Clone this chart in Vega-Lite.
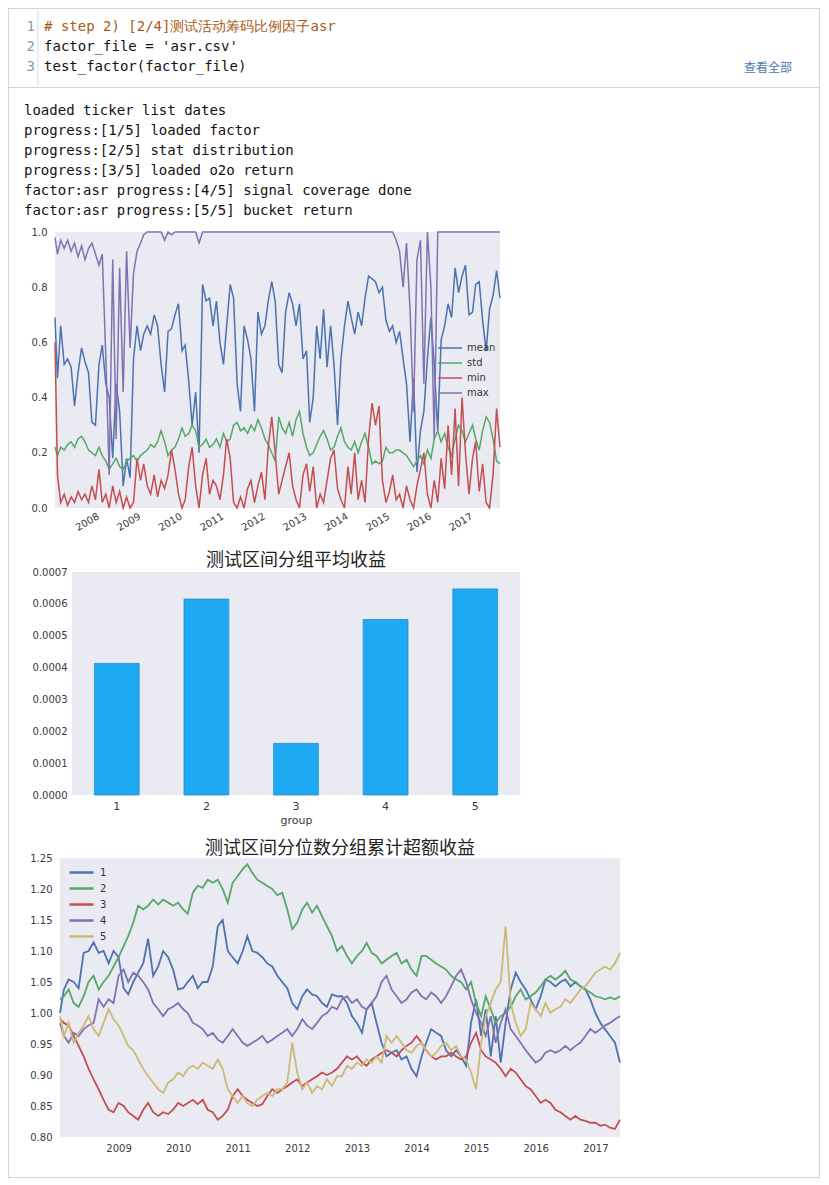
{
"$schema": "https://vega.github.io/schema/vega-lite/v6.json",
"padding": 8,
"background": "white",
"spacing": 0,
"resolve": {"scale": {"color": "independent"}, "legend": {"color": "independent"}},
"config": {
  "view": {"stroke": null},
  "axis": {"domain": false, "ticks": false, "grid": false, "labelFont": "DejaVu Sans", "labelFontSize": 10, "labelColor": "#3a3a3a", "titleFont": "DejaVu Sans", "titleFontWeight": "normal", "titleColor": "#3a3a3a", "labelFlush": false},
  "title": {"font": "Noto Sans CJK SC", "fontSize": 18, "fontWeight": "normal", "color": "#222222", "anchor": "middle"},
  "legend": {"labelFont": "DejaVu Sans", "labelFontSize": 10, "labelColor": "#333333"}
},
"vconcat": [
  {
    "spacing": 0,
    "resolve": {"scale": {"color": "independent"}, "legend": {"color": "independent"}},
    "hconcat": [
      {"width": 1, "height": 1169, "view": {"fill": "#d5d5d5", "stroke": null}, "data": {"values": []}, "mark": "point"},
      {
        "spacing": 0,
        "resolve": {"scale": {"color": "independent"}, "legend": {"color": "independent"}},
        "vconcat": [
          {"width": 810, "height": 1, "view": {"fill": "#d5d5d5", "stroke": null}, "data": {"values": []}, "mark": "point"},
          {
            "width": 810, "height": 76,
            "data": {"values": [
              {"ln": 1, "num": "1", "code": "# step 2) [2/4]测试活动筹码比例因子asr", "kind": "comment"},
              {"ln": 2, "num": "2", "code": "factor_file = 'asr.csv'", "kind": "code"},
              {"ln": 3, "num": "3", "code": "test_factor(factor_file)", "kind": "code"}
            ]},
            "layer": [
              {
                "data": {"values": [{"g": "gutter"}]},
                "mark": {"type": "rule", "color": "#dcdcdc", "strokeWidth": 1},
                "encoding": {"x": {"datum": 3.45, "type": "quantitative", "scale": {"domain": [0, 96.4286], "nice": false, "zero": false}, "axis": null}}
              },
              {
                "mark": {"type": "text", "align": "right", "baseline": "middle", "font": "DejaVu Sans Mono", "fontSize": 14, "color": "#999999"},
                "encoding": {
                  "text": {"field": "num"},
                  "x": {"datum": 3.1, "type": "quantitative", "scale": {"domain": [0, 96.4286], "nice": false, "zero": false}, "axis": null},
                  "y": {"field": "ln", "type": "quantitative", "scale": {"domain": [0.15, 3.95], "reverse": true, "nice": false, "zero": false}, "axis": null}
                }
              },
              {
                "transform": [{"filter": "datum.kind === 'comment'"}],
                "mark": {"type": "text", "align": "left", "baseline": "middle", "font": "DejaVu Sans Mono", "fontSize": 14, "color": "#a85a1c"},
                "encoding": {
                  "text": {"field": "code"},
                  "x": {"datum": 4.17, "type": "quantitative", "scale": {"domain": [0, 96.4286], "nice": false, "zero": false}, "axis": null},
                  "y": {"field": "ln", "type": "quantitative", "scale": {"domain": [0.15, 3.95], "reverse": true, "nice": false, "zero": false}, "axis": null}
                }
              },
              {
                "transform": [{"filter": "datum.kind === 'code'"}],
                "mark": {"type": "text", "align": "left", "baseline": "middle", "font": "DejaVu Sans Mono", "fontSize": 14, "color": "#111111"},
                "encoding": {
                  "text": {"field": "code"},
                  "x": {"datum": 4.17, "type": "quantitative", "scale": {"domain": [0, 96.4286], "nice": false, "zero": false}, "axis": null},
                  "y": {"field": "ln", "type": "quantitative", "scale": {"domain": [0.15, 3.95], "reverse": true, "nice": false, "zero": false}, "axis": null}
                }
              },
              {
                "data": {"values": [{"t": "查看全部"}]},
                "mark": {"type": "text", "align": "center", "baseline": "middle", "font": "Noto Sans CJK SC", "fontSize": 12, "color": "#4a78b5"},
                "encoding": {
                  "text": {"field": "t"},
                  "x": {"datum": 90.36, "type": "quantitative", "scale": {"domain": [0, 96.4286], "nice": false, "zero": false}, "axis": null},
                  "y": {"datum": 3.05, "type": "quantitative", "scale": {"domain": [0.15, 3.95], "reverse": true, "nice": false, "zero": false}, "axis": null}
                }
              }
            ]
          },
          {"width": 810, "height": 1, "view": {"fill": "#d5d5d5", "stroke": null}, "data": {"values": []}, "mark": "point"},
          {"width": 1, "height": 16, "data": {"values": []}, "mark": "point"},
          {
            "spacing": 0,
            "hconcat": [
              {"width": 15, "height": 320, "data": {"values": []}, "mark": "point"},
              {
                "width": 445, "height": 276,
                "view": {"fill": "#EAEAF2", "stroke": null},
                "title": {
                  "text": ["loaded ticker list dates", "progress:[1/5] loaded factor", "progress:[2/5] stat distribution", "progress:[3/5] loaded o2o return", "factor:asr progress:[4/5] signal coverage done", "factor:asr progress:[5/5] bucket return"],
                  "anchor": "start", "frame": "bounds", "dx": 0, "font": "DejaVu Sans Mono", "fontSize": 14, "fontWeight": "normal", "color": "#111111", "lineHeight": 20, "baseline": "top", "offset": 9
                },
                "data": {"values": [
                  {"d":"2007-01-10","mean":0.69,"std":0.22,"min":0.60,"max":0.98},
                  {"d":"2007-02","mean":0.47,"std":0.19,"min":0.12,"max":0.92},
                  {"d":"2007-03","mean":0.66,"std":0.22,"min":0.02,"max":0.97},
                  {"d":"2007-04","mean":0.52,"std":0.21,"min":0.05,"max":0.94},
                  {"d":"2007-05","mean":0.54,"std":0.23,"min":0.01,"max":0.97},
                  {"d":"2007-06","mean":0.51,"std":0.24,"min":0.04,"max":0.93},
                  {"d":"2007-07","mean":0.37,"std":0.22,"min":0.02,"max":0.96},
                  {"d":"2007-08","mean":0.49,"std":0.25,"min":0.06,"max":0.91},
                  {"d":"2007-09","mean":0.58,"std":0.26,"min":0.03,"max":0.95},
                  {"d":"2007-10","mean":0.53,"std":0.24,"min":0.05,"max":0.90},
                  {"d":"2007-11","mean":0.49,"std":0.21,"min":0.02,"max":0.94},
                  {"d":"2007-12","mean":0.31,"std":0.20,"min":0.08,"max":0.96},
                  {"d":"2008-01","mean":0.30,"std":0.19,"min":0.03,"max":0.92},
                  {"d":"2008-02","mean":0.52,"std":0.22,"min":0.14,"max":0.88},
                  {"d":"2008-03","mean":0.59,"std":0.19,"min":0.02,"max":0.92},
                  {"d":"2008-04","mean":0.45,"std":0.17,"min":0.05,"max":0.55},
                  {"d":"2008-05","mean":0.40,"std":0.14,"min":0.00,"max":0.12},
                  {"d":"2008-06","mean":0.18,"std":0.16,"min":0.08,"max":0.90},
                  {"d":"2008-07","mean":0.45,"std":0.18,"min":0.02,"max":0.25},
                  {"d":"2008-08","mean":0.35,"std":0.15,"min":0.06,"max":0.87},
                  {"d":"2008-09","mean":0.08,"std":0.14,"min":0.00,"max":0.42},
                  {"d":"2008-10","mean":0.18,"std":0.17,"min":0.04,"max":0.93},
                  {"d":"2008-11","mean":0.11,"std":0.18,"min":0.00,"max":0.58},
                  {"d":"2008-12","mean":0.54,"std":0.19,"min":0.02,"max":0.85},
                  {"d":"2009-01","mean":0.66,"std":0.17,"min":0.18,"max":0.93},
                  {"d":"2009-02","mean":0.57,"std":0.19,"min":0.10,"max":0.96},
                  {"d":"2009-03","mean":0.63,"std":0.20,"min":0.16,"max":0.99},
                  {"d":"2009-04","mean":0.66,"std":0.21,"min":0.08,"max":1.0},
                  {"d":"2009-05","mean":0.63,"std":0.23,"min":0.05,"max":1.0},
                  {"d":"2009-06","mean":0.70,"std":0.22,"min":0.12,"max":1.0},
                  {"d":"2009-07","mean":0.66,"std":0.24,"min":0.04,"max":1.0},
                  {"d":"2009-08","mean":0.52,"std":0.28,"min":0.10,"max":1.0},
                  {"d":"2009-09","mean":0.42,"std":0.24,"min":0.07,"max":0.97},
                  {"d":"2009-10","mean":0.64,"std":0.19,"min":0.12,"max":1.0},
                  {"d":"2009-11","mean":0.65,"std":0.21,"min":0.21,"max":0.99},
                  {"d":"2009-12","mean":0.70,"std":0.22,"min":0.14,"max":1.0},
                  {"d":"2010-01","mean":0.74,"std":0.25,"min":0.05,"max":1.0},
                  {"d":"2010-02","mean":0.57,"std":0.29,"min":0.00,"max":1.0},
                  {"d":"2010-03","mean":0.59,"std":0.26,"min":0.03,"max":1.0},
                  {"d":"2010-04","mean":0.46,"std":0.27,"min":0.15,"max":1.0},
                  {"d":"2010-05","mean":0.30,"std":0.30,"min":0.22,"max":1.0},
                  {"d":"2010-06","mean":0.42,"std":0.28,"min":0.08,"max":1.0},
                  {"d":"2010-07","mean":0.20,"std":0.22,"min":0.00,"max":0.96},
                  {"d":"2010-08","mean":0.81,"std":0.23,"min":0.12,"max":1.0},
                  {"d":"2010-09","mean":0.75,"std":0.25,"min":0.18,"max":1.0},
                  {"d":"2010-10","mean":0.76,"std":0.22,"min":0.05,"max":1.0},
                  {"d":"2010-11","mean":0.66,"std":0.23,"min":0.10,"max":1.0},
                  {"d":"2010-12","mean":0.75,"std":0.25,"min":0.08,"max":1.0},
                  {"d":"2011-01","mean":0.60,"std":0.22,"min":0.03,"max":1.0},
                  {"d":"2011-02","mean":0.52,"std":0.27,"min":0.12,"max":1.0},
                  {"d":"2011-03","mean":0.66,"std":0.24,"min":0.25,"max":1.0},
                  {"d":"2011-04","mean":0.81,"std":0.25,"min":0.18,"max":1.0},
                  {"d":"2011-05","mean":0.76,"std":0.30,"min":0.02,"max":1.0},
                  {"d":"2011-06","mean":0.45,"std":0.31,"min":0.00,"max":1.0},
                  {"d":"2011-07","mean":0.35,"std":0.28,"min":0.04,"max":1.0},
                  {"d":"2011-08","mean":0.66,"std":0.29,"min":0.00,"max":1.0},
                  {"d":"2011-09","mean":0.61,"std":0.27,"min":0.07,"max":1.0},
                  {"d":"2011-10","mean":0.54,"std":0.30,"min":0.10,"max":1.0},
                  {"d":"2011-11","mean":0.35,"std":0.28,"min":0.02,"max":1.0},
                  {"d":"2011-12","mean":0.71,"std":0.32,"min":0.08,"max":1.0},
                  {"d":"2012-01","mean":0.63,"std":0.29,"min":0.13,"max":1.0},
                  {"d":"2012-02","mean":0.66,"std":0.25,"min":0.03,"max":1.0},
                  {"d":"2012-03","mean":0.75,"std":0.23,"min":0.22,"max":1.0},
                  {"d":"2012-04","mean":0.82,"std":0.20,"min":0.33,"max":1.0},
                  {"d":"2012-05","mean":0.75,"std":0.17,"min":0.20,"max":1.0},
                  {"d":"2012-06","mean":0.52,"std":0.33,"min":0.05,"max":1.0},
                  {"d":"2012-07","mean":0.49,"std":0.29,"min":0.10,"max":1.0},
                  {"d":"2012-08","mean":0.71,"std":0.27,"min":0.15,"max":1.0},
                  {"d":"2012-09","mean":0.78,"std":0.31,"min":0.20,"max":1.0},
                  {"d":"2012-10","mean":0.74,"std":0.26,"min":0.08,"max":1.0},
                  {"d":"2012-11","mean":0.66,"std":0.32,"min":0.03,"max":1.0},
                  {"d":"2012-12","mean":0.74,"std":0.35,"min":0.00,"max":1.0},
                  {"d":"2013-01","mean":0.54,"std":0.27,"min":0.12,"max":1.0},
                  {"d":"2013-02","mean":0.57,"std":0.22,"min":0.16,"max":1.0},
                  {"d":"2013-03","mean":0.31,"std":0.19,"min":0.06,"max":1.0},
                  {"d":"2013-04","mean":0.40,"std":0.20,"min":0.15,"max":1.0},
                  {"d":"2013-05","mean":0.66,"std":0.23,"min":0.00,"max":1.0},
                  {"d":"2013-06","mean":0.54,"std":0.26,"min":0.05,"max":1.0},
                  {"d":"2013-07","mean":0.72,"std":0.28,"min":0.02,"max":1.0},
                  {"d":"2013-08","mean":0.51,"std":0.25,"min":0.10,"max":1.0},
                  {"d":"2013-09","mean":0.66,"std":0.21,"min":0.18,"max":1.0},
                  {"d":"2013-10","mean":0.52,"std":0.22,"min":0.21,"max":1.0},
                  {"d":"2013-11","mean":0.30,"std":0.26,"min":0.07,"max":1.0},
                  {"d":"2013-12","mean":0.54,"std":0.29,"min":0.03,"max":1.0},
                  {"d":"2014-01","mean":0.66,"std":0.24,"min":0.00,"max":1.0},
                  {"d":"2014-02","mean":0.75,"std":0.22,"min":0.15,"max":1.0},
                  {"d":"2014-03","mean":0.69,"std":0.21,"min":0.05,"max":1.0},
                  {"d":"2014-04","mean":0.63,"std":0.24,"min":0.20,"max":1.0},
                  {"d":"2014-05","mean":0.71,"std":0.20,"min":0.03,"max":1.0},
                  {"d":"2014-06","mean":0.66,"std":0.24,"min":0.10,"max":1.0},
                  {"d":"2014-07","mean":0.76,"std":0.27,"min":0.02,"max":1.0},
                  {"d":"2014-08","mean":0.84,"std":0.22,"min":0.25,"max":1.0},
                  {"d":"2014-09","mean":0.83,"std":0.16,"min":0.38,"max":1.0},
                  {"d":"2014-10","mean":0.82,"std":0.17,"min":0.30,"max":1.0},
                  {"d":"2014-11","mean":0.78,"std":0.16,"min":0.37,"max":1.0},
                  {"d":"2014-12","mean":0.80,"std":0.17,"min":0.10,"max":1.0},
                  {"d":"2015-01","mean":0.68,"std":0.22,"min":0.02,"max":1.0},
                  {"d":"2015-02","mean":0.64,"std":0.20,"min":0.06,"max":1.0},
                  {"d":"2015-03","mean":0.66,"std":0.20,"min":0.12,"max":1.0},
                  {"d":"2015-04","mean":0.60,"std":0.21,"min":0.03,"max":0.97},
                  {"d":"2015-05","mean":0.64,"std":0.21,"min":0.05,"max":0.93},
                  {"d":"2015-06","mean":0.54,"std":0.20,"min":0.00,"max":0.80},
                  {"d":"2015-07","mean":0.45,"std":0.19,"min":0.08,"max":0.96},
                  {"d":"2015-08","mean":0.24,"std":0.17,"min":0.03,"max":0.72},
                  {"d":"2015-09","mean":0.47,"std":0.15,"min":0.00,"max":0.35},
                  {"d":"2015-10","mean":0.13,"std":0.17,"min":0.08,"max":0.90},
                  {"d":"2015-11","mean":0.28,"std":0.19,"min":0.14,"max":0.97},
                  {"d":"2015-12","mean":0.35,"std":0.16,"min":0.20,"max":0.45},
                  {"d":"2016-01","mean":0.54,"std":0.21,"min":0.05,"max":1.0},
                  {"d":"2016-02","mean":0.69,"std":0.18,"min":0.00,"max":0.80},
                  {"d":"2016-03","mean":0.52,"std":0.25,"min":0.10,"max":0.25},
                  {"d":"2016-04","mean":0.28,"std":0.28,"min":0.02,"max":1.0},
                  {"d":"2016-05","mean":0.61,"std":0.24,"min":0.18,"max":1.0},
                  {"d":"2016-06","mean":0.66,"std":0.27,"min":0.07,"max":1.0},
                  {"d":"2016-07","mean":0.74,"std":0.22,"min":0.30,"max":1.0},
                  {"d":"2016-08","mean":0.69,"std":0.19,"min":0.12,"max":1.0},
                  {"d":"2016-09","mean":0.87,"std":0.25,"min":0.36,"max":1.0},
                  {"d":"2016-10","mean":0.78,"std":0.30,"min":0.08,"max":1.0},
                  {"d":"2016-11","mean":0.84,"std":0.28,"min":0.40,"max":1.0},
                  {"d":"2016-12","mean":0.88,"std":0.24,"min":0.20,"max":1.0},
                  {"d":"2017-01","mean":0.70,"std":0.27,"min":0.05,"max":1.0},
                  {"d":"2017-02","mean":0.71,"std":0.30,"min":0.18,"max":1.0},
                  {"d":"2017-03","mean":0.81,"std":0.25,"min":0.24,"max":1.0},
                  {"d":"2017-04","mean":0.82,"std":0.21,"min":0.06,"max":1.0},
                  {"d":"2017-05","mean":0.68,"std":0.28,"min":0.16,"max":1.0},
                  {"d":"2017-06","mean":0.57,"std":0.33,"min":0.02,"max":1.0},
                  {"d":"2017-07","mean":0.72,"std":0.31,"min":0.00,"max":1.0},
                  {"d":"2017-08","mean":0.77,"std":0.25,"min":0.12,"max":1.0},
                  {"d":"2017-09","mean":0.86,"std":0.17,"min":0.36,"max":1.0},
                  {"d":"2017-10","mean":0.76,"std":0.16,"min":0.22,"max":1.0}
                ]},
                "transform": [{"fold": ["mean", "std", "min", "max"], "as": ["series", "value"]}],
                "mark": {"type": "line", "strokeWidth": 1.5},
                "encoding": {
                  "x": {"field": "d", "type": "temporal", "scale": {"nice": false}, "axis": {"title": null, "format": "%Y", "labelAngle": -30, "labelAlign": "right", "labelBaseline": "top", "labelPadding": 3, "minExtent": 29, "tickCount": {"interval": "year", "step": 1}}},
                  "y": {"field": "value", "type": "quantitative", "scale": {"domain": [0, 1], "nice": false}, "axis": {"title": null, "values": [0, 0.2, 0.4, 0.6, 0.8, 1], "format": ".1f", "labelPadding": 8, "minExtent": 31}},
                  "color": {"field": "series", "type": "nominal", "scale": {"domain": ["mean", "std", "min", "max"], "range": ["#4C72B0", "#55A868", "#C44E52", "#8172B2"]},
                    "legend": {"orient": "none", "legendX": 435, "legendY": 110, "title": null, "symbolType": "M-2.4,0H2.4", "symbolSize": 100, "symbolStrokeWidth": 1.5, "rowPadding": 4, "labelOffset": 11}}
                }
              }
            ]
          },
          {
            "spacing": 0,
            "hconcat": [
              {"width": 19, "height": 268, "data": {"values": []}, "mark": "point"},
              {
                "width": 448, "height": 223,
                "view": {"fill": "#EAEAF2", "stroke": null},
                "title": {"text": "测试区间分组平均收益", "offset": -12, "baseline": "middle"},
                "data": {"values": [
                  {"group": "1", "ret": 0.000413},
                  {"group": "2", "ret": 0.000615},
                  {"group": "3", "ret": 0.000162},
                  {"group": "4", "ret": 0.000551},
                  {"group": "5", "ret": 0.000647}
                ]},
                "mark": {"type": "bar", "color": "#1DAAF3", "stroke": "#2B8CCB", "strokeWidth": 0.8},
                "encoding": {
                  "x": {"field": "group", "type": "nominal", "sort": null, "scale": {"paddingInner": 0.5, "paddingOuter": 0.25}, "axis": {"title": "group", "labelAngle": 0, "labelFontSize": 11, "titleFontSize": 11, "labelPadding": 5, "titlePadding": 3}},
                  "y": {"field": "ret", "type": "quantitative", "scale": {"domain": [0, 0.0007], "nice": false}, "axis": {"title": null, "values": [0, 0.0001, 0.0002, 0.0003, 0.0004, 0.0005, 0.0006, 0.0007], "format": ".4f", "labelPadding": 5, "minExtent": 44}}
                }
              }
            ]
          },
          {
            "spacing": 0,
            "hconcat": [
              {"width": 17, "height": 279, "data": {"values": []}, "mark": "point"},
              {
                "width": 560, "height": 279,
                "view": {"fill": "#EAEAF2", "stroke": null},
                "title": {"text": "测试区间分位数分组累计超额收益", "offset": -14, "baseline": "middle"},
                "data": {"values": [
                  {"d":"2008-01-08","1":1.000,"2":1.022,"3":0.990,"4":0.984,"5":0.995},
                  {"d":"2008-02","1":1.038,"2":1.027,"3":0.984,"4":0.963,"5":0.963},
                  {"d":"2008-03","1":1.054,"2":1.038,"3":0.980,"4":0.952,"5":0.984},
                  {"d":"2008-04","1":1.050,"2":1.016,"3":0.963,"4":0.968,"5":0.952},
                  {"d":"2008-05","1":1.040,"2":1.010,"3":0.947,"4":0.963,"5":0.968},
                  {"d":"2008-06","1":1.097,"2":1.027,"3":0.930,"4":0.974,"5":0.980},
                  {"d":"2008-07","1":1.100,"2":1.050,"3":0.910,"4":0.980,"5":0.995},
                  {"d":"2008-08","1":1.114,"2":1.060,"3":0.893,"4":0.984,"5":0.974},
                  {"d":"2008-09","1":1.097,"2":1.038,"3":0.877,"4":1.022,"5":0.963},
                  {"d":"2008-10","1":1.100,"2":1.050,"3":0.860,"4":1.010,"5":0.984},
                  {"d":"2008-11","1":1.080,"2":1.060,"3":0.844,"4":1.022,"5":1.006},
                  {"d":"2008-12","1":1.100,"2":1.075,"3":0.840,"4":1.016,"5":0.990},
                  {"d":"2009-01","1":1.090,"2":1.090,"3":0.855,"4":1.060,"5":0.980},
                  {"d":"2009-02","1":1.040,"2":1.108,"3":0.850,"4":1.070,"5":0.963},
                  {"d":"2009-03","1":1.030,"2":1.124,"3":0.840,"4":1.050,"5":0.947},
                  {"d":"2009-04","1":1.050,"2":1.146,"3":0.834,"4":1.065,"5":0.940},
                  {"d":"2009-05","1":1.065,"2":1.173,"3":0.828,"4":1.060,"5":0.925},
                  {"d":"2009-06","1":1.080,"2":1.167,"3":0.844,"4":1.050,"5":0.910},
                  {"d":"2009-07","1":1.120,"2":1.173,"3":0.855,"4":1.038,"5":0.898},
                  {"d":"2009-08","1":1.060,"2":1.183,"3":0.840,"4":1.016,"5":0.888},
                  {"d":"2009-09","1":1.075,"2":1.175,"3":0.834,"4":1.006,"5":0.877},
                  {"d":"2009-10","1":1.100,"2":1.183,"3":0.840,"4":0.995,"5":0.871},
                  {"d":"2009-11","1":1.090,"2":1.178,"3":0.837,"4":1.006,"5":0.888},
                  {"d":"2009-12","1":1.070,"2":1.173,"3":0.844,"4":1.010,"5":0.893},
                  {"d":"2010-01","1":1.038,"2":1.178,"3":0.855,"4":1.016,"5":0.904},
                  {"d":"2010-02","1":1.040,"2":1.167,"3":0.850,"4":1.006,"5":0.898},
                  {"d":"2010-03","1":1.050,"2":1.160,"3":0.855,"4":1.000,"5":0.910},
                  {"d":"2010-04","1":1.060,"2":1.194,"3":0.860,"4":0.984,"5":0.915},
                  {"d":"2010-05","1":1.040,"2":1.205,"3":0.853,"4":0.980,"5":0.910},
                  {"d":"2010-06","1":1.050,"2":1.202,"3":0.860,"4":0.974,"5":0.920},
                  {"d":"2010-07","1":1.050,"2":1.215,"3":0.844,"4":0.963,"5":0.915},
                  {"d":"2010-08","1":1.075,"2":1.210,"3":0.840,"4":0.968,"5":0.910},
                  {"d":"2010-09","1":1.140,"2":1.215,"3":0.828,"4":0.957,"5":0.925},
                  {"d":"2010-10","1":1.150,"2":1.200,"3":0.834,"4":0.952,"5":0.910},
                  {"d":"2010-11","1":1.100,"2":1.178,"3":0.844,"4":0.963,"5":0.877},
                  {"d":"2010-12","1":1.090,"2":1.210,"3":0.866,"4":0.974,"5":0.866},
                  {"d":"2011-01","1":1.080,"2":1.221,"3":0.877,"4":0.963,"5":0.855},
                  {"d":"2011-02","1":1.100,"2":1.232,"3":0.866,"4":0.952,"5":0.866},
                  {"d":"2011-03","1":1.124,"2":1.240,"3":0.860,"4":0.947,"5":0.855},
                  {"d":"2011-04","1":1.100,"2":1.226,"3":0.855,"4":0.952,"5":0.850},
                  {"d":"2011-05","1":1.097,"2":1.215,"3":0.850,"4":0.957,"5":0.860},
                  {"d":"2011-06","1":1.090,"2":1.210,"3":0.853,"4":0.963,"5":0.866},
                  {"d":"2011-07","1":1.080,"2":1.205,"3":0.866,"4":0.952,"5":0.871},
                  {"d":"2011-08","1":1.075,"2":1.200,"3":0.877,"4":0.957,"5":0.866},
                  {"d":"2011-09","1":1.060,"2":1.190,"3":0.871,"4":0.963,"5":0.877},
                  {"d":"2011-10","1":1.050,"2":1.194,"3":0.877,"4":0.968,"5":0.877},
                  {"d":"2011-11","1":1.040,"2":1.167,"3":0.882,"4":0.974,"5":0.888},
                  {"d":"2011-12","1":1.016,"2":1.135,"3":0.888,"4":0.963,"5":0.952},
                  {"d":"2012-01","1":1.006,"2":1.146,"3":0.893,"4":0.974,"5":0.904},
                  {"d":"2012-02","1":1.027,"2":1.167,"3":0.882,"4":0.990,"5":0.877},
                  {"d":"2012-03","1":1.038,"2":1.178,"3":0.888,"4":0.980,"5":0.888},
                  {"d":"2012-04","1":1.030,"2":1.162,"3":0.893,"4":0.974,"5":0.871},
                  {"d":"2012-05","1":1.027,"2":1.173,"3":0.898,"4":0.984,"5":0.882},
                  {"d":"2012-06","1":1.016,"2":1.156,"3":0.904,"4":0.995,"5":0.877},
                  {"d":"2012-07","1":1.010,"2":1.140,"3":0.900,"4":1.000,"5":0.893},
                  {"d":"2012-08","1":1.030,"2":1.124,"3":0.904,"4":1.010,"5":0.882},
                  {"d":"2012-09","1":1.027,"2":1.100,"3":0.910,"4":1.006,"5":0.898},
                  {"d":"2012-10","1":1.027,"2":1.108,"3":0.920,"4":1.022,"5":0.898},
                  {"d":"2012-11","1":1.016,"2":1.092,"3":0.930,"4":1.027,"5":0.915},
                  {"d":"2012-12","1":0.995,"2":1.080,"3":0.925,"4":1.016,"5":0.910},
                  {"d":"2013-01","1":0.984,"2":1.092,"3":0.930,"4":1.022,"5":0.920},
                  {"d":"2013-02","1":0.968,"2":1.100,"3":0.920,"4":1.010,"5":0.915},
                  {"d":"2013-03","1":1.006,"2":1.113,"3":0.915,"4":1.006,"5":0.925},
                  {"d":"2013-04","1":1.016,"2":1.097,"3":0.925,"4":1.016,"5":0.920},
                  {"d":"2013-05","1":0.984,"2":1.092,"3":0.930,"4":1.027,"5":0.930},
                  {"d":"2013-06","1":0.952,"2":1.080,"3":0.936,"4":1.050,"5":0.920},
                  {"d":"2013-07","1":0.930,"2":1.086,"3":0.940,"4":1.060,"5":0.963},
                  {"d":"2013-08","1":0.936,"2":1.092,"3":0.936,"4":1.038,"5":0.952},
                  {"d":"2013-09","1":0.940,"2":1.097,"3":0.930,"4":1.027,"5":0.963},
                  {"d":"2013-10","1":0.925,"2":1.080,"3":0.940,"4":1.016,"5":0.952},
                  {"d":"2013-11","1":0.930,"2":1.086,"3":0.947,"4":1.022,"5":0.940},
                  {"d":"2013-12","1":0.910,"2":1.070,"3":0.952,"4":1.033,"5":0.936},
                  {"d":"2014-01","1":0.898,"2":1.060,"3":0.963,"4":1.038,"5":0.947},
                  {"d":"2014-02","1":0.930,"2":1.092,"3":0.952,"4":1.027,"5":0.952},
                  {"d":"2014-03","1":0.952,"2":1.092,"3":0.940,"4":1.022,"5":0.940},
                  {"d":"2014-04","1":0.974,"2":1.086,"3":0.930,"4":1.033,"5":0.930},
                  {"d":"2014-05","1":0.968,"2":1.080,"3":0.925,"4":1.027,"5":0.936},
                  {"d":"2014-06","1":0.963,"2":1.075,"3":0.930,"4":1.016,"5":0.947},
                  {"d":"2014-07","1":0.940,"2":1.070,"3":0.930,"4":1.027,"5":0.952},
                  {"d":"2014-08","1":0.930,"2":1.060,"3":0.936,"4":1.043,"5":0.940},
                  {"d":"2014-09","1":0.940,"2":1.054,"3":0.930,"4":1.060,"5":0.947},
                  {"d":"2014-10","1":0.930,"2":1.050,"3":0.925,"4":1.070,"5":0.930},
                  {"d":"2014-11","1":0.915,"2":1.038,"3":0.930,"4":1.050,"5":0.925},
                  {"d":"2014-12","1":0.984,"2":1.050,"3":0.952,"4":1.022,"5":0.904},
                  {"d":"2015-01","1":1.022,"2":1.016,"3":0.968,"4":1.000,"5":0.877},
                  {"d":"2015-02","1":0.963,"2":0.995,"3":0.940,"4":0.984,"5":0.952},
                  {"d":"2015-03","1":1.006,"2":1.027,"3":0.930,"4":0.963,"5":0.995},
                  {"d":"2015-04","1":0.930,"2":1.006,"3":0.925,"4":0.995,"5":1.016},
                  {"d":"2015-05","1":0.995,"2":0.984,"3":0.920,"4":0.952,"5":1.038},
                  {"d":"2015-06","1":0.920,"2":0.995,"3":0.910,"4":0.984,"5":1.050},
                  {"d":"2015-07","1":0.984,"2":1.000,"3":0.898,"4":1.006,"5":1.140},
                  {"d":"2015-08","1":1.038,"2":1.010,"3":0.910,"4":0.974,"5":1.016},
                  {"d":"2015-09","1":1.065,"2":1.027,"3":0.904,"4":0.963,"5":0.984},
                  {"d":"2015-10","1":1.050,"2":1.038,"3":0.893,"4":0.952,"5":0.963},
                  {"d":"2015-11","1":1.038,"2":1.022,"3":0.882,"4":0.940,"5":0.974},
                  {"d":"2015-12","1":1.022,"2":1.027,"3":0.877,"4":0.930,"5":1.016},
                  {"d":"2016-01","1":1.006,"2":1.033,"3":0.866,"4":0.920,"5":1.006},
                  {"d":"2016-02","1":1.027,"2":1.043,"3":0.855,"4":0.925,"5":0.995},
                  {"d":"2016-03","1":1.054,"2":1.054,"3":0.860,"4":0.936,"5":1.016},
                  {"d":"2016-04","1":1.050,"2":1.060,"3":0.855,"4":0.940,"5":1.000},
                  {"d":"2016-05","1":1.043,"2":1.054,"3":0.844,"4":0.936,"5":1.006},
                  {"d":"2016-06","1":1.050,"2":1.060,"3":0.840,"4":0.940,"5":1.010},
                  {"d":"2016-07","1":1.054,"2":1.068,"3":0.834,"4":0.947,"5":1.022},
                  {"d":"2016-08","1":1.043,"2":1.054,"3":0.828,"4":0.940,"5":1.016},
                  {"d":"2016-09","1":1.050,"2":1.050,"3":0.834,"4":0.947,"5":1.027},
                  {"d":"2016-10","1":1.043,"2":1.043,"3":0.828,"4":0.952,"5":1.038},
                  {"d":"2016-11","1":1.038,"2":1.038,"3":0.826,"4":0.963,"5":1.043},
                  {"d":"2016-12","1":1.022,"2":1.033,"3":0.823,"4":0.974,"5":1.054},
                  {"d":"2017-01","1":1.000,"2":1.027,"3":0.823,"4":0.968,"5":1.065},
                  {"d":"2017-02","1":0.984,"2":1.025,"3":0.818,"4":0.974,"5":1.070},
                  {"d":"2017-03","1":0.974,"2":1.022,"3":0.820,"4":0.980,"5":1.075},
                  {"d":"2017-04","1":0.963,"2":1.025,"3":0.815,"4":0.984,"5":1.070},
                  {"d":"2017-05","1":0.952,"2":1.022,"3":0.813,"4":0.990,"5":1.080},
                  {"d":"2017-06","1":0.920,"2":1.027,"3":0.828,"4":0.995,"5":1.097}
                ]},
                "transform": [{"fold": ["1", "2", "3", "4", "5"], "as": ["grp", "value"]}],
                "mark": {"type": "line", "strokeWidth": 1.8},
                "encoding": {
                  "x": {"field": "d", "type": "temporal", "scale": {"nice": false}, "axis": {"title": null, "format": "%Y", "labelAngle": 0, "labelPadding": 6, "tickCount": {"interval": "year", "step": 1}}},
                  "y": {"field": "value", "type": "quantitative", "scale": {"domain": [0.8, 1.25], "nice": false, "zero": false}, "axis": {"title": null, "values": [0.8, 0.85, 0.9, 0.95, 1.0, 1.05, 1.1, 1.15, 1.2, 1.25], "format": ".2f", "labelPadding": 8, "minExtent": 34}},
                  "color": {"field": "grp", "type": "nominal", "scale": {"domain": ["1", "2", "3", "4", "5"], "range": ["#4C72B0", "#55A868", "#C44E52", "#8172B2", "#CCB974"]},
                    "legend": {"orient": "none", "legendX": 66, "legendY": 8, "title": null, "symbolType": "M-2.4,0H2.4", "symbolSize": 100, "symbolStrokeWidth": 2.5, "rowPadding": 4, "labelOffset": 12}}
                }
              }
            ]
          }
        ]
      },
      {"width": 1, "height": 1169, "view": {"fill": "#d5d5d5", "stroke": null}, "data": {"values": []}, "mark": "point"}
    ]
  },
  {"width": 812, "height": 1, "view": {"fill": "#d5d5d5", "stroke": null}, "data": {"values": []}, "mark": "point"}
]
}
